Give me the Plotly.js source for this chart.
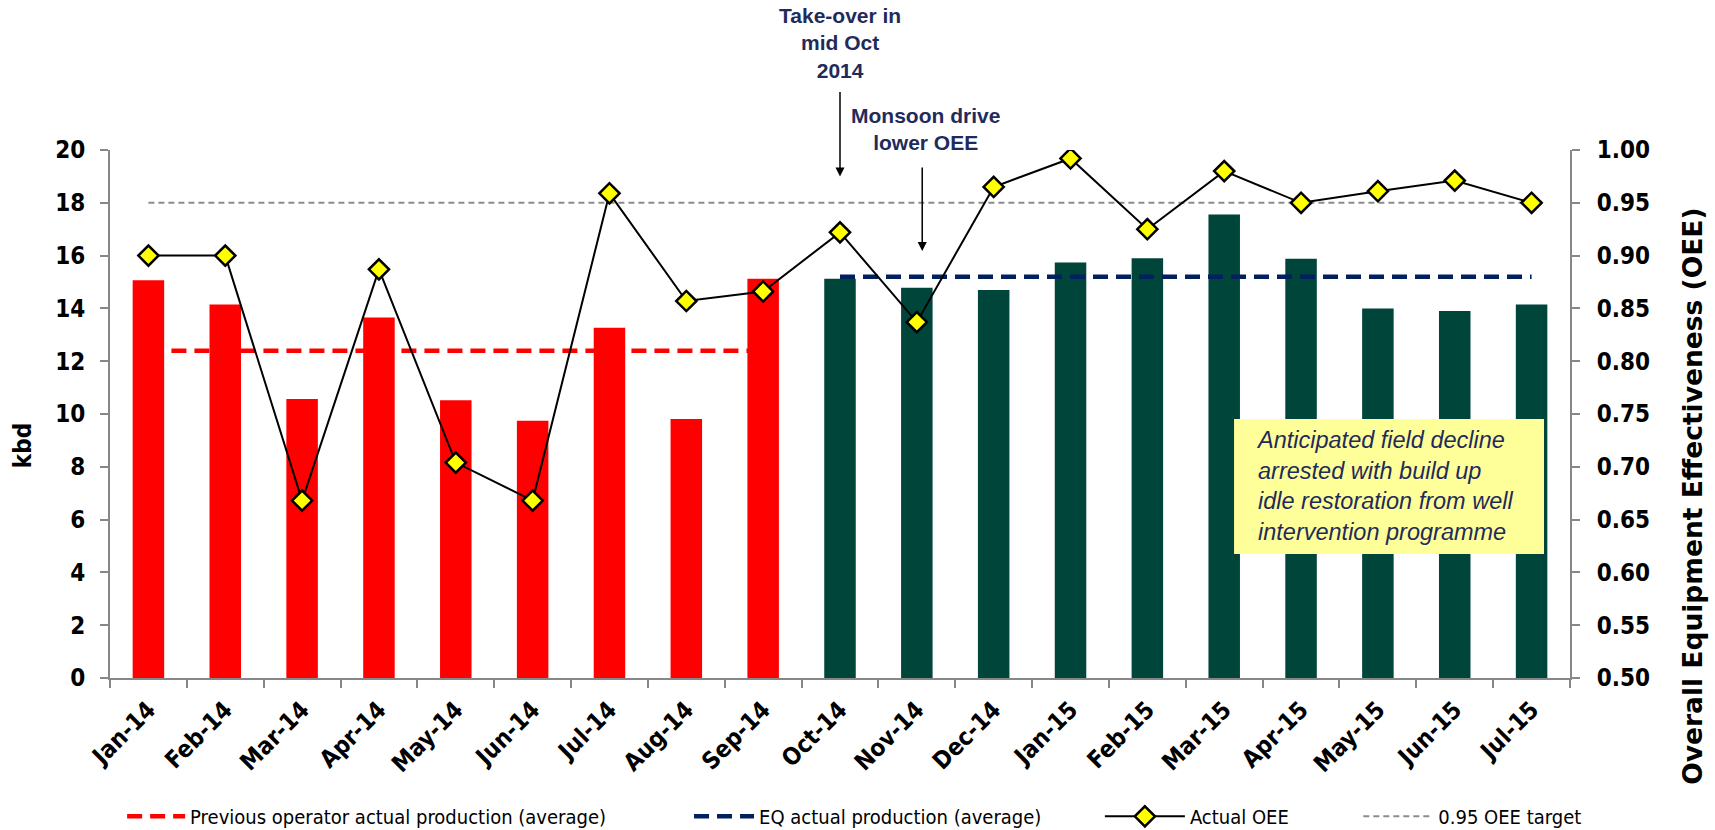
<!DOCTYPE html>
<html>
<head>
<meta charset="utf-8">
<script src="https://cdn.plot.ly/plotly-3.0.1.min.js"></script>
<style>html,body{margin:0;padding:0;background:#fff;}#chart{width:1715px;height:830px;}</style>
</head>
<body>
<div id="chart"></div>
<script>
// ---- data ----
const months = ['Jan-14','Feb-14','Mar-14','Apr-14','May-14','Jun-14','Jul-14','Aug-14','Sep-14',
                'Oct-14','Nov-14','Dec-14','Jan-15','Feb-15','Mar-15','Apr-15','May-15','Jun-15','Jul-15'];
const prevMonths = ['Jan-14','Feb-14','Mar-14','Apr-14','May-14','Jun-14','Jul-14','Aug-14','Sep-14'];
const prevProd = [15.07, 14.15, 10.57, 13.66, 10.52, 9.74, 13.27, 9.81, 15.12];
const eqMonths = ['Oct-14','Nov-14','Dec-14','Jan-15','Feb-15','Mar-15','Apr-15','May-15','Jun-15','Jul-15'];
const eqProd = [15.12, 14.78, 14.70, 15.74, 15.90, 17.56, 15.88, 14.00, 13.90, 14.15];
const oee = [0.900, 0.900, 0.668, 0.887, 0.704, 0.668, 0.959, 0.857, 0.866,
             0.922, 0.837, 0.965, 0.992, 0.925, 0.980, 0.950, 0.961, 0.971, 0.950];
const prevAvg = 12.4;
const eqAvg = 15.2;
const oeeTarget = 0.95;
const kbdTicks = [0,2,4,6,8,10,12,14,16,18,20];
const oeeTicks = [0.50,0.55,0.60,0.65,0.70,0.75,0.80,0.85,0.90,0.95,1.00];

const RED = '#FF0000', GREEN = '#00453A', NAVY = '#002060', TXT = '#1F2B5B', AX = '#878787';
const FB = 'DejaVu Sans Condensed, DejaVu Sans, sans-serif';
const FA = 'Liberation Sans, Arial, sans-serif';

const traces = [
  {type:'bar', x: prevMonths, y: prevProd, marker:{color: RED}, showlegend:false, hoverinfo:'x+y'},
  {type:'bar', x: eqMonths, y: eqProd, marker:{color: GREEN}, showlegend:false, hoverinfo:'x+y'},
  {type:'scatter', mode:'lines', x: prevMonths, y: prevMonths.map(() => prevAvg),
   name:'Previous operator actual production (average)', legend:'legend',
   line:{color: RED, width:4.5, dash:'15px,8px'}},
  {type:'scatter', mode:'lines', x: eqMonths, y: eqMonths.map(() => eqAvg),
   name:'EQ actual production (average)', legend:'legend2',
   line:{color: NAVY, width:4.5, dash:'15px,8px'}},
  {type:'scatter', mode:'lines', x: months, y: months.map(() => oeeTarget), yaxis:'y2',
   name:'0.95 OEE target', legend:'legend4',
   line:{color:'#8C8C8C', width:2, dash:'6px,4px'}},
  {type:'scatter', mode:'lines+markers', x: months, y: oee, yaxis:'y2',
   name:'Actual OEE', legend:'legend3',
   line:{color:'#000000', width:2},
   marker:{symbol:'diamond', size:15.5, color:'#FFFF00', line:{color:'#000000', width:2.5}}}
];

const tickFont = {family: FB, size: 24, color:'#000', weight: 700};
const legFont = {family: FB, size: 20, color:'#000'};
const legBase = {orientation:'h', yanchor:'middle', xanchor:'left', y:-0.262, font: legFont,
                 bgcolor:'rgba(0,0,0,0)', borderwidth:0};

const layout = {
  width:1715, height:830,
  margin:{l:110, r:145, t:150, b:152, autoexpand:false},
  paper_bgcolor:'#fff', plot_bgcolor:'#fff',
  barmode:'overlay', bargap:0.59,
  showlegend:true,
  xaxis:{type:'category', categoryorder:'array', categoryarray: months, range:[-0.5,18.5],
         tickson:'boundaries', ticks:'outside', ticklen:8, tickwidth:2, tickcolor:AX,
         showline:true, linecolor:AX, linewidth:2, showgrid:false, zeroline:false,
         tickangle:-45, tickfont: tickFont, ticklabelstandoff:6, fixedrange:true},
  yaxis:{range:[0,20], tickvals: kbdTicks, ticks:'outside', ticklen:8, tickwidth:2, tickcolor:AX,
         showline:true, linecolor:AX, linewidth:2, showgrid:false, zeroline:false,
         tickfont: tickFont, ticklabelstandoff:10},
  yaxis2:{range:[0.5,1.0], tickvals: oeeTicks, tickformat:'.2f', overlaying:'y', side:'right',
          ticks:'outside', ticklen:8, tickwidth:2, tickcolor:AX,
          showline:true, linecolor:AX, linewidth:2, showgrid:false, zeroline:false,
          tickfont: tickFont, ticklabelstandoff:12},
  legend: Object.assign({}, legBase, {x:0.0083, itemwidth:58}),
  legend2: Object.assign({}, legBase, {x:0.3966, itemwidth:60}),
  legend3: Object.assign({}, legBase, {x:0.678, itemwidth:80}),
  legend4: Object.assign({}, legBase, {x:0.855, itemwidth:70}),
  shapes:[
    {type:'rect', xref:'paper', yref:'paper', x0:0.7699, x1:0.9822, y0:0.2348, y1:0.4905,
     fillcolor:'#FFFF99', line:{width:0}, layer:'above'}
  ],
  annotations:[
    {xref:'x', yref:'paper', x:'Oct-14', y:1.2027, xanchor:'center', yanchor:'middle', showarrow:false,
     text:'Take-over in<br>mid Oct<br>2014', font:{family:FA, size:21, color:TXT, weight:700}},
    {xref:'x', yref:'y', x:'Oct-14', y:19.0, ax:0, ay:-86, text:'', showarrow:true,
     arrowhead:2, arrowsize:1.2, arrowwidth:1.5, arrowcolor:'#000'},
    {xref:'x', yref:'paper', x:10.11, y:1.0407, xanchor:'center', yanchor:'middle', showarrow:false,
     text:'Monsoon drive<br>lower OEE', font:{family:FA, size:21, color:TXT, weight:700}},
    {xref:'x', yref:'y', x:10.07, y:16.17, ax:0, ay:-85, text:'', showarrow:true,
     arrowhead:2, arrowsize:1.2, arrowwidth:1.5, arrowcolor:'#000'},
    {xref:'paper', yref:'paper', x:0.7836, y:0.3627, xanchor:'left', yanchor:'middle', align:'left',
     showarrow:false,
     text:'Anticipated field decline<br>arrested with build up<br>idle restoration from well<br>intervention programme',
     font:{family:FA, size:23.5, color:TXT, style:'italic'}},
    {xref:'paper', yref:'paper', x:-0.0596, y:0.441, xanchor:'center', yanchor:'middle',
     textangle:-90, showarrow:false,
     text:'kbd', font:{family:FB, size:24, color:'#000', weight:700}},
    {xref:'paper', yref:'paper', x:1.0842, y:0.345, xanchor:'center', yanchor:'middle',
     textangle:-90, showarrow:false,
     text:'Overall Equipment Effectiveness (OEE)', font:{family:'DejaVu Sans, sans-serif', size:26.5, color:'#000', weight:700}}
  ]
};

Plotly.newPlot('chart', traces, layout, {displayModeBar:false, staticPlot:true});
</script>
</body>
</html>
